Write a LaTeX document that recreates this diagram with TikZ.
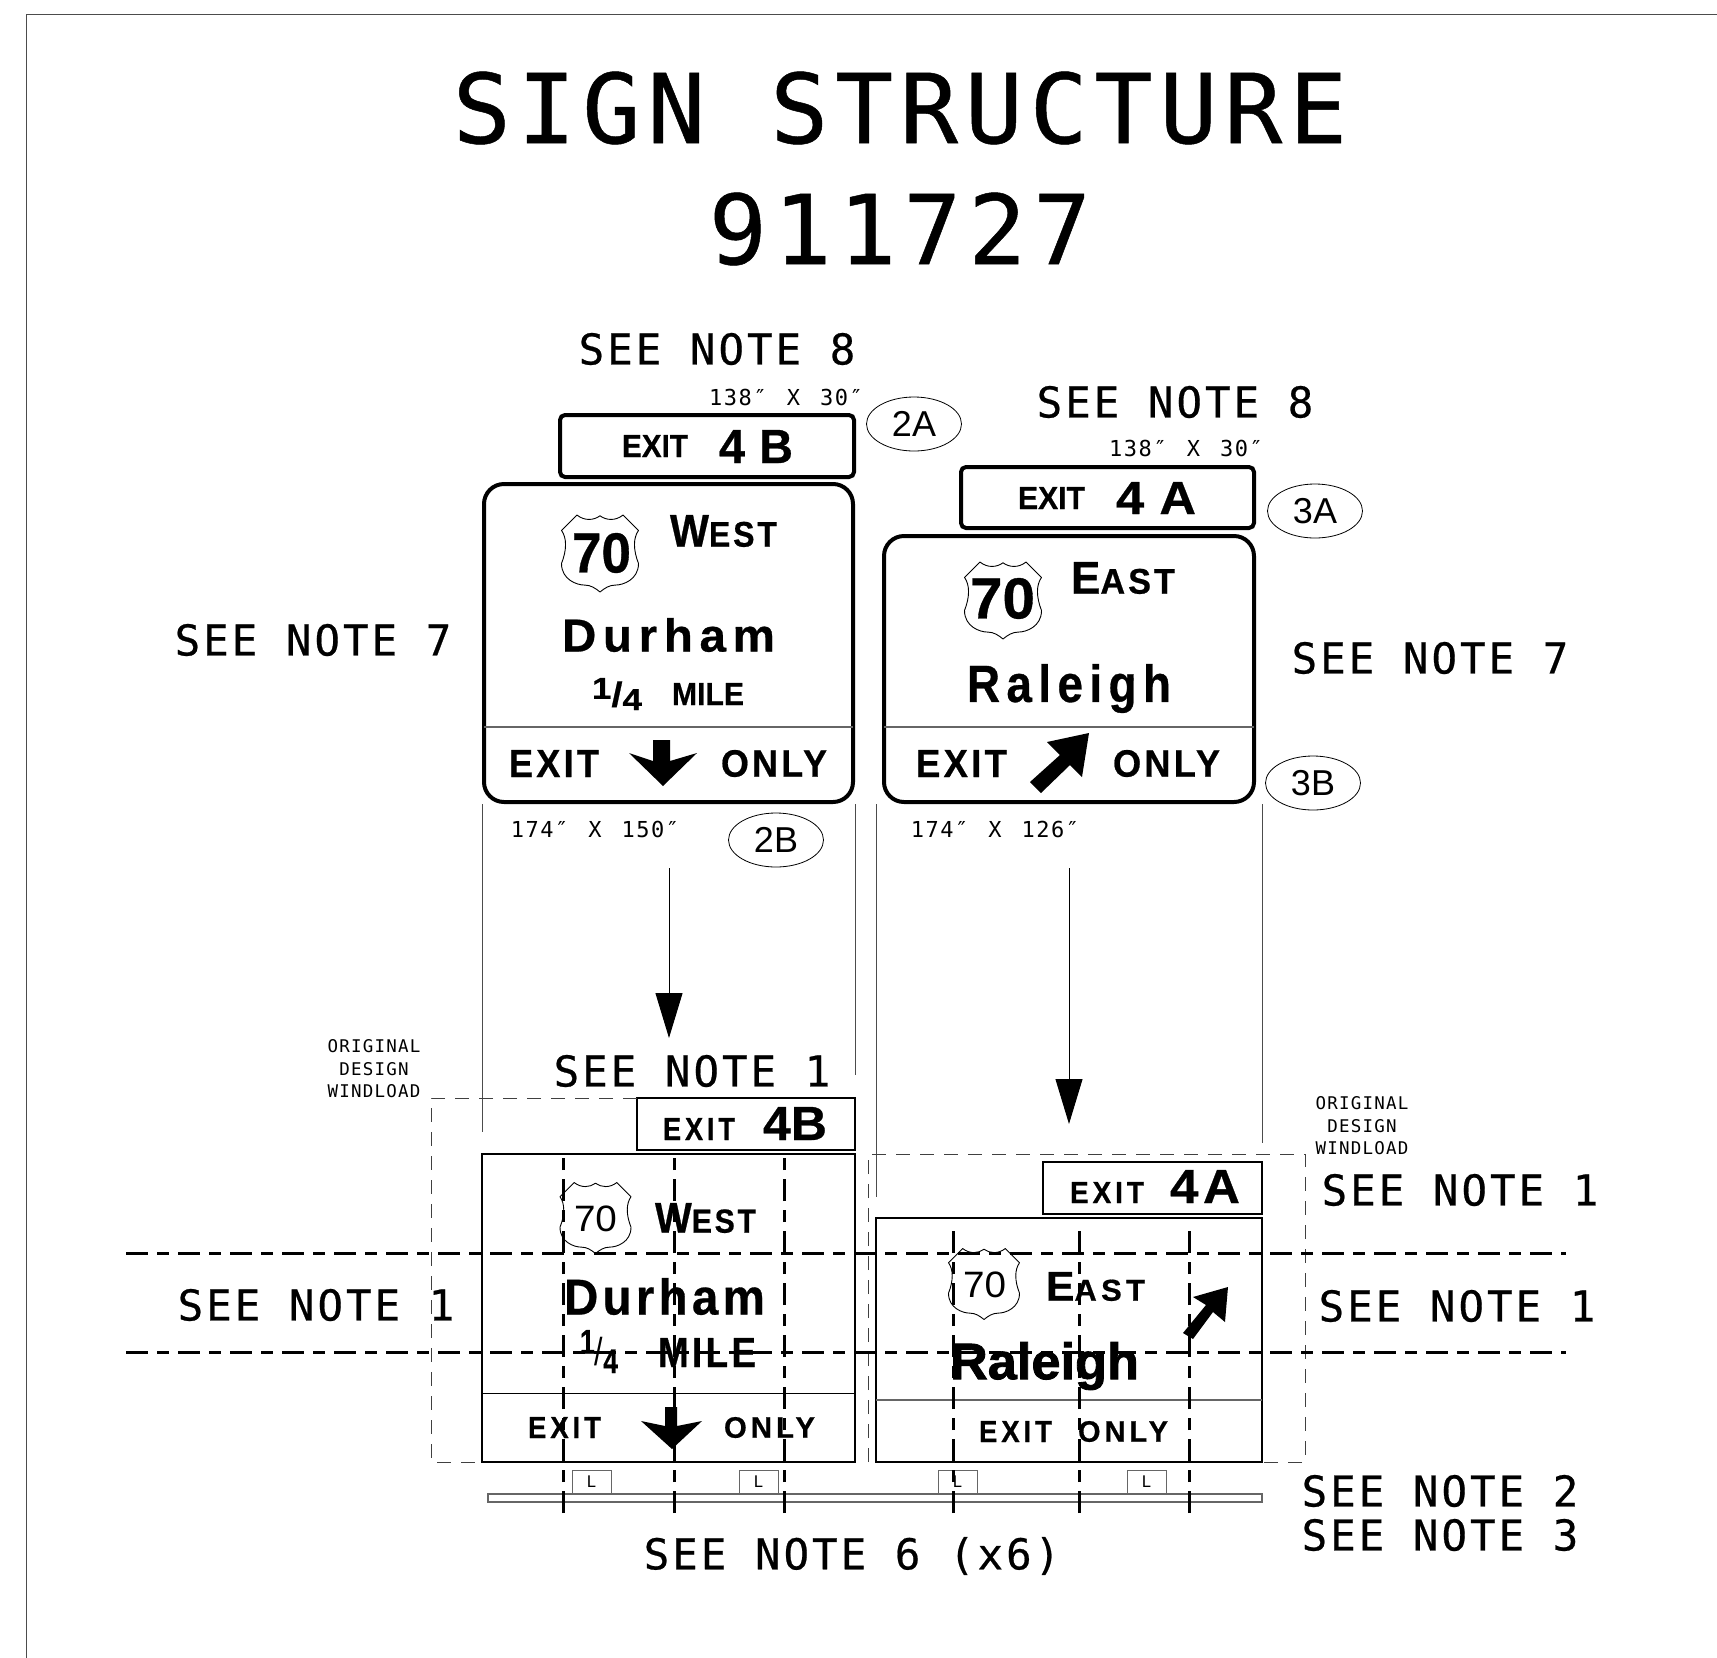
\documentclass[tikz,border=0pt]{standalone}
\usepackage{fontspec}
\usepackage{graphicx}
\usetikzlibrary{arrows.meta,shapes.geometric}
\newfontfamily\monof[LetterSpace=7,FakeBold=0.5]{DejaVu Sans Mono}
\newfontfamily\monol[LetterSpace=7]{DejaVu Sans Mono}
\newfontfamily\hwb[UprightFont=* Bold,FakeBold=0.6]{Liberation Sans}
\newfontfamily\hwx[UprightFont=* Bold,FakeBold=1.6]{Liberation Sans}
\newfontfamily\hwbs[UprightFont=* Bold,LetterSpace=9,FakeBold=0.6]{Liberation Sans}
\newfontfamily\hwbw[UprightFont=* Bold,LetterSpace=14,FakeBold=0.6]{Liberation Sans}
\newfontfamily\hwr{Liberation Sans}
% text fitted into the pixel range x1..x2, y1..y2
\newcommand\sgn[6]{\node[fittext] (#1) at ({(#2+#3)/2},{(#4+#5)/2}) {\resizebox*{\the\numexpr#3-#2\relax pt}{\the\numexpr#5-#4\relax pt}{\fontsize{40}{44}\selectfont #6}};}
% box over the pixel range
\newcommand\rbx[6]{\node[#6,minimum width=\the\numexpr#3-#2\relax pt,minimum height=\the\numexpr#5-#4\relax pt] (#1) at ({(#2+#3)/2},{(#4+#5)/2}) {};}
% US route shield
\newcommand\ushield[3]{\begin{scope}[shift={(#1,#2)},x=#3pt,y=-#3pt]
\draw[line width=.9pt,line join=round] (0,-.49) .. controls (-.08,-.43) and (-.2,-.42) .. (-.3,-.5) -- (-.5,-.3) .. controls (-.43,-.2) and (-.43,-.05) .. (-.5,.13) .. controls (-.5,.34) and (-.3,.41) .. (-.2,.41) .. controls (-.12,.41) and (-.06,.45) .. (0,.5) .. controls (.06,.45) and (.12,.41) .. (.2,.41) .. controls (.3,.41) and (.5,.34) .. (.5,.13) .. controls (.43,-.05) and (.43,-.2) .. (.5,-.3) -- (.3,-.5) .. controls (.2,-.42) and (.08,-.43) .. (0,-.49) -- cycle;
\end{scope}}
\newcommand\fracdigit[1]{{\fontsize{35}{37}\selectfont #1}}
\tikzset{
 fittext/.style={inner sep=0pt,outer sep=0pt},
 note/.style={inner sep=0pt,outer sep=0pt,font=\monof\fontsize{42.5}{46}\selectfont},
 dim/.style={inner sep=0pt,outer sep=0pt,font=\monol\fontsize{22}{24}\selectfont},
 wind/.style={inner sep=0pt,outer sep=0pt,align=center,font=\monol\fontsize{17.5}{22.5}\selectfont},
 title/.style={inner sep=0pt,outer sep=0pt,font=\monof\fontsize{96.5}{100}\selectfont},
 tag/.style={ellipse,draw,line width=.8pt,inner sep=0pt,minimum width=95pt,minimum height=54pt,font=\hwr\fontsize{36}{38}\selectfont},
 bigsign/.style={draw,line width=4pt,rounded corners=20pt,inner sep=0pt,outer sep=0pt},
 topsign/.style={draw,line width=4pt,rounded corners=5pt,inner sep=0pt,outer sep=0pt},
 flatsign/.style={draw,line width=2pt,inner sep=0pt,outer sep=0pt},
 lbox/.style={draw=black!60,line width=1pt,inner sep=0pt,outer sep=0pt,font=\monol\fontsize{16}{18}\selectfont},
 walk/.style={draw=black!60,line width=1.2pt,inner sep=0pt,outer sep=0pt},
 proj/.style={draw=black!70,line width=1pt},
 divider/.style={draw=black!60,line width=1.2pt},
 winddash/.style={draw=black!75,line width=1pt,dash pattern=on 14pt off 10pt},
 postdash/.style={draw=black,line width=3pt,dash pattern=on 22pt off 9pt on 12pt off 9pt},
 frameline/.style={draw=black!70,line width=1pt},
 flow/.style={draw=black,line width=1pt,-{Triangle[length=45pt,width=27pt]}},
}
\begin{document}
\begin{tikzpicture}[x=1pt,y=-1pt]
\useasboundingbox (0,0) rectangle (1717,1658);
\fill[white] (0,0) rectangle (1717,1658);
% frame
\coordinate (fa) at (26,1658); \coordinate (fb) at (26,14); \coordinate (fc) at (1717,14);
\draw[frameline] (fa) -- (fb) -- (fc);
% titles
\node[title] (t1) at (900,108) {SIGN STRUCTURE};
\node[title] (t2) at (900,229) {911727};
% top sign boxes
\rbx{s4b}{560}{854}{415}{477}{topsign}
\rbx{sw}{484}{853}{484}{802}{bigsign}
\rbx{s4a}{961}{1254}{467}{528}{topsign}
\rbx{se}{884}{1254}{536}{802}{bigsign}
\coordinate (dwa) at (484,727); \coordinate (dwb) at (853,727);
\coordinate (dea) at (884,727); \coordinate (deb) at (1254,727);
\draw[divider] (dwa) -- (dwb);
\draw[divider] (dea) -- (deb);
% top left contents
\sgn{a1}{622}{688}{435}{457}{\hwb EXIT}
\sgn{a2}{719}{793}{430}{463}{\hwb 4\kern.3em B}
\ushield{600}{553.5}{77}
\sgn{a3}{572}{631}{533}{573}{\hwb 70}
\sgn{a4}{670}{777}{515}{547}{\hwbs W\fontsize{31}{34}\selectfont EST}
\sgn{a5}{562}{775}{618}{652}{\hwbw Durham}
\sgn{a6}{592}{642}{678}{710}{\hwb\raisebox{.22em}{\fracdigit{1}}/\raisebox{-.1em}{\fracdigit{4}}}
\sgn{a7}{672}{744}{683}{705}{\hwb MILE}
\sgn{a8}{509}{599}{750}{777}{\hwbs EXIT}
\sgn{a9}{721}{827}{750}{777}{\hwbs ONLY}
\fill (653,740) -- (670,740) -- (670,761) -- (697,753) -- (663,786) -- (629,753) -- (653,761) -- cycle;
% top right contents
\sgn{b1}{1018}{1085}{487}{509}{\hwb EXIT}
\sgn{b2}{1116}{1196}{482}{514}{\hwb 4\kern.3em A}
\ushield{1003}{600.5}{77}
\sgn{b3}{970}{1035}{578}{619}{\hwb 70}
\sgn{b4}{1071}{1175}{562}{594}{\hwbs E\fontsize{31}{34}\selectfont AST}
\sgn{b5}{967}{1171}{664}{713}{\hwbw Raleigh}
\sgn{b6}{916}{1007}{750}{777}{\hwbs EXIT}
\sgn{b7}{1113}{1220}{750}{777}{\hwbs ONLY}
\fill (1089,733) -- (1047,742) -- (1060,755) -- (1030,782) -- (1041,793) -- (1070,765) -- (1082,777) -- cycle;
% notes and dimensions, top
\node[note] (n8a) at (717,349) {SEE NOTE 8};
\node[note] (n8b) at (1175,402) {SEE NOTE 8};
\node[dim] (d1) at (786,397) {138″\kern20pt X\kern20pt 30″};
\node[dim] (d2) at (1186,448) {138″\kern20pt X\kern20pt 30″};
\node[dim] (d3) at (595,829) {174″\kern20pt X\kern20pt 150″};
\node[dim] (d4) at (995,829) {174″\kern20pt X\kern20pt 126″};
\node[tag] (e2a) at (914,424) {2A};
\node[tag] (e3a) at (1315,511) {3A};
\node[tag] (e2b) at (776,840) {2B};
\node[tag] (e3b) at (1313,783) {3B};
\node[note] (n7a) at (313,640) {SEE NOTE 7};
\node[note] (n7b) at (1430,658) {SEE NOTE 7};
% projection lines
\coordinate (p1a) at (482,804); \coordinate (p1b) at (482,1132);
\coordinate (p2a) at (855,804); \coordinate (p2b) at (855,1075);
\coordinate (p3a) at (876,804); \coordinate (p3b) at (876,1197);
\coordinate (p4a) at (1262,804); \coordinate (p4b) at (1262,1143);
\draw[proj] (p1a) -- (p1b);
\draw[proj] (p2a) -- (p2b);
\draw[proj] (p3a) -- (p3b);
\draw[proj] (p4a) -- (p4b);
% flow arrows
\coordinate (f1a) at (669,868); \coordinate (f1b) at (669,1038);
\coordinate (f2a) at (1069,868); \coordinate (f2b) at (1069,1124);
\draw[flow] (f1a) -- (f1b);
\draw[flow] (f2a) -- (f2b);
% lower notes
\node[wind] (w1) at (374,1069) {ORIGINAL\\DESIGN\\WINDLOAD};
\node[wind] (w2) at (1362,1126) {ORIGINAL\\DESIGN\\WINDLOAD};
\node[note] (n1a) at (692,1071) {SEE NOTE 1};
\node[note] (n1b) at (1460,1190) {SEE NOTE 1};
\node[note] (n1c) at (316,1305) {SEE NOTE 1};
\node[note] (n1d) at (1457,1306) {SEE NOTE 1};
\node[note] (n2) at (1440,1491) {SEE NOTE 2};
\node[note] (n3) at (1440,1535) {SEE NOTE 3};
\node[note] (n6) at (852,1556) {SEE NOTE 6 (x6)};
% lower sign boxes
\rbx{l4b}{637}{855}{1098}{1150}{flatsign}
\rbx{lw}{482}{855}{1154}{1462}{flatsign}
\rbx{l4a}{1043}{1262}{1162}{1214}{flatsign}
\rbx{le}{876}{1262}{1218}{1462}{flatsign}
\coordinate (ldwa) at (482,1393); \coordinate (ldwb) at (855,1393);
\coordinate (ldea) at (876,1400); \coordinate (ldeb) at (1262,1400);
\draw[line width=1pt] (ldwa) -- (ldwb);
\draw[divider] (ldea) -- (ldeb);
% lower left contents
\sgn{c1}{663}{735}{1118}{1140}{\hwbw EXIT}
\sgn{c2}{763}{827}{1107}{1140}{\hwb 4B}
\ushield{595.5}{1218}{71}
\sgn{c3}{574}{617}{1206}{1232}{\hwr 70}
\sgn{c4}{655}{756}{1203}{1233}{\hwbs W\fontsize{31}{34}\selectfont EST}
\sgn{c5}{564}{765}{1278}{1315}{\hwbs Durham}
\sgn{c6}{580}{618}{1330}{1373}{\hwb\raisebox{.3em}{\fracdigit{1}}{\hwr /}\raisebox{-.2em}{\fracdigit{4}}}
\sgn{c7}{658}{756}{1338}{1367}{\hwbs MILE}
\sgn{c8}{528}{601}{1417}{1438}{\hwbw EXIT}
\sgn{c9}{724}{815}{1417}{1438}{\hwbw ONLY}
\fill (665,1407) -- (677,1407) -- (677,1426) -- (702,1421) -- (672,1449) -- (641,1421) -- (665,1426) -- cycle;
% lower right contents
\sgn{g1}{1070}{1144}{1182}{1203}{\hwbw EXIT}
\sgn{g2}{1170}{1240}{1170}{1203}{\hwbs 4A}
\ushield{984}{1284}{71}
\sgn{g3}{963}{1006}{1272}{1298}{\hwr 70}
\sgn{g4}{1046}{1145}{1272}{1301}{\hwbw E\fontsize{29}{32}\selectfont AST}
\sgn{g5}{950}{1139}{1342}{1390}{\hwx Raleigh}
\sgn{g6}{979}{1052}{1421}{1442}{\hwbw EXIT}
\sgn{g7}{1078}{1168}{1421}{1442}{\hwbw ONLY}
\fill (1228,1287) -- (1193,1297) -- (1206,1305) -- (1183,1333) -- (1193,1339) -- (1213,1312) -- (1225,1322) -- cycle;
% walkway and lights
\rbx{wk}{488}{1262}{1494}{1502}{walk}
\node[lbox,minimum width=39pt,minimum height=24pt] (L1) at (591.5,1482) {L};
\node[lbox,minimum width=39pt,minimum height=24pt] (L2) at (758.5,1482) {L};
\node[lbox,minimum width=39pt,minimum height=24pt] (L3) at (957.5,1482) {L};
\node[lbox,minimum width=39pt,minimum height=24pt] (L4) at (1146.5,1482) {L};
% original design windload outlines
\coordinate (wa) at (637,1098); \coordinate (wb) at (431,1098); \coordinate (wc) at (431,1462); \coordinate (wd) at (482,1462);
\draw[winddash] (wa) -- (wb) -- (wc) -- (wd);
\coordinate (xa) at (868,1462); \coordinate (xb) at (868,1154); \coordinate (xc) at (1305,1154); \coordinate (xd) at (1305,1462); \coordinate (xe) at (1262,1462);
\draw[winddash] (xa) -- (xb) -- (xc) -- (xd) -- (xe);
% horizontal and vertical post dashes
\coordinate (ha) at (126,1253); \coordinate (hb) at (1566,1253);
\coordinate (hc) at (126,1352); \coordinate (hd) at (1566,1352);
\draw[postdash] (ha) -- (hb);
\draw[postdash] (hc) -- (hd);
\foreach \px/\py/\nm in {563/1154/v1,674/1154/v2,784/1154/v3,953/1225/v4,1079/1225/v5,1189/1225/v6}{
 \coordinate (\nm a) at (\px,\py);
 \coordinate (\nm b) at (\px,1513);
 \draw[postdash] (\nm b) -- (\nm a);
}
\end{tikzpicture}
\end{document}
